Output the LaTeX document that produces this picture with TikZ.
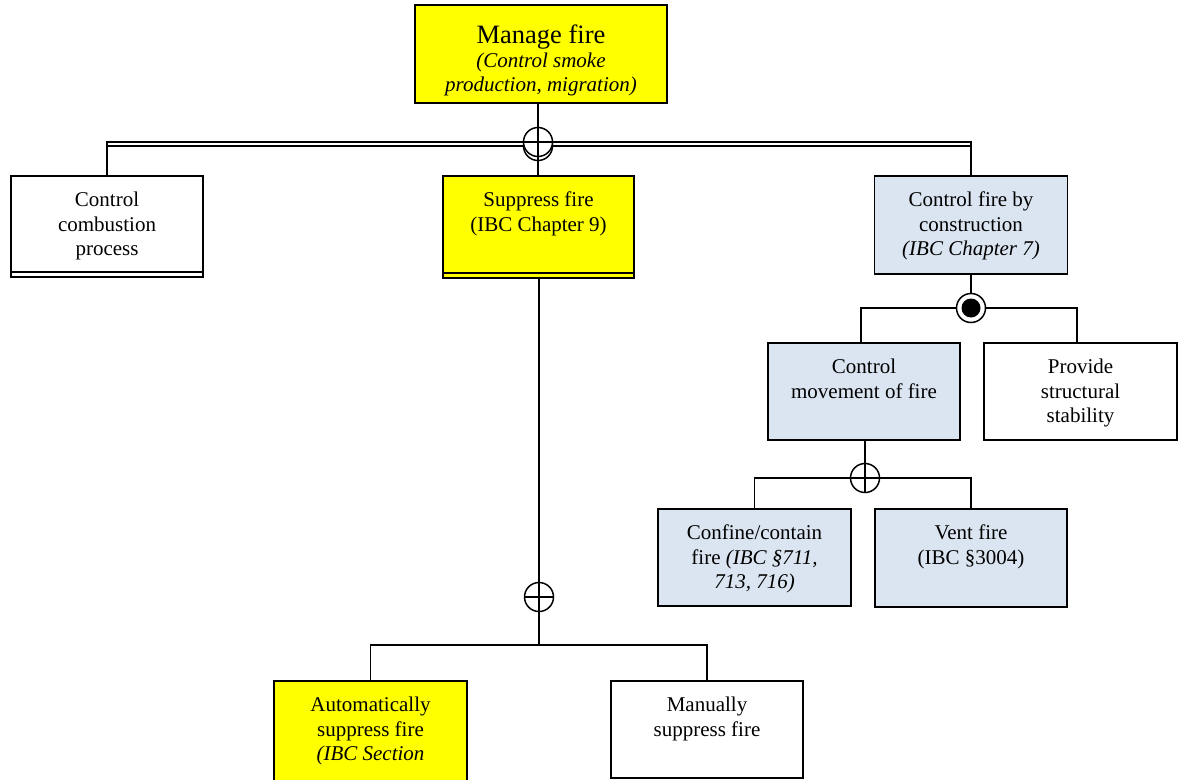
\documentclass[tikz,border=0pt]{standalone}
\usepackage{fontspec}
\setmainfont{Liberation Serif}
\definecolor{fyellow}{HTML}{FFFF00}
\definecolor{fblue}{HTML}{DBE5F1}
\newcommand\boxtxt[3]{\parbox[c][#2][t]{#1}{\centering\fontsize{21}{24.7}\selectfont\rule{0pt}{30.5pt}#3\par}}
\begin{document}
\begin{tikzpicture}[x=1pt,y=-1pt,
  fbox/.style={draw, line width=1.5pt, inner sep=0pt, outer sep=0pt},
  conn/.style={line width=1.5pt},
  orgate/.style={circle, draw, line width=1.5pt, minimum size=29pt, inner sep=0pt, outer sep=0pt, fill=white,
    path picture={\draw[black, line width=1.5pt] (path picture bounding box.north) -- (path picture bounding box.south)
      (path picture bounding box.west) -- (path picture bounding box.east);}},
  andgate/.style={circle, draw, line width=1.5pt, minimum size=29pt, inner sep=0pt, outer sep=0pt, fill=white,
    path picture={\fill[black] (path picture bounding box.center) circle (9.5pt);}}]
\useasboundingbox (0,0) rectangle (1183,779);
\clip (0,0) rectangle (1183,779);

% boxes
\node[fbox, fill=fyellow] (manage) at (541,54)
  {\parbox[c][98pt][t]{252pt}{\centering\fontsize{26.5}{24}\selectfont\rule{0pt}{38pt}Manage fire\\
   \fontsize{21}{24}\selectfont\itshape(Control smoke\\production, migration)\par}};
\node[fbox, fill=white] (comb) at (107,226.5) {\boxtxt{192pt}{101pt}{Control\\combustion\\process}};
\node[fbox, fill=fyellow] (supp) at (538.5,227) {\boxtxt{191pt}{102pt}{Suppress fire\\(IBC Chapter 9)}};
\node[fbox, fill=fblue] (cons) at (971,225) {\boxtxt{193pt}{98pt}{Control fire by\\construction\\\textit{(IBC Chapter 7)}}};
\node[fbox, fill=fblue] (move) at (864,391.5) {\boxtxt{192pt}{97pt}{Control\\movement of fire}};
\node[fbox, fill=white] (stab) at (1080.5,391.5) {\boxtxt{193pt}{97pt}{Provide\\structural\\stability}};
\node[fbox, fill=fblue] (conf) at (754.5,557.5) {\boxtxt{193pt}{97pt}{Confine/contain\\fire \textit{(IBC §711,}\\\textit{713, 716)}}};
\node[fbox, fill=fblue] (vent) at (971,558) {\boxtxt{192pt}{98pt}{Vent fire\\(IBC §3004)}};
\node[fbox, fill=fyellow] (auto) at (370.5,746) {\boxtxt{193pt}{130pt}{Automatically\\suppress fire\\\textit{(IBC Section}}};
\node[fbox, fill=white] (manual) at (707,729.5) {\boxtxt{192pt}{97pt}{Manually\\suppress fire}};

% double bottoms
\draw[line width=1.5pt] ([yshift=5pt]comb.south west) -- ([yshift=5pt]comb.south east);
\draw[line width=1.5pt] ([yshift=5pt]supp.south west) -- ([yshift=5pt]supp.south east);

% gates
\draw[line width=1.5pt, fill=white] (538,146) circle (14.5pt);
\node[orgate] (or1) at (538,142) {};
\node[andgate] (or2) at (971,308) {};
\node[orgate] (or3) at (865,478) {};
\node[orgate] (or4) at (539,597) {};
\coordinate (j4) at (539,645);

% connectors
\draw[conn] (manage.south -| or1) -- (or1.north);
\draw[conn] (or1.south) -- (supp.north -| or1);
\draw[conn] (comb.north) |- (or1.west);
\draw[conn] (cons.north) |- (or1.east);
\draw[conn] ([yshift=-4pt]or1.west) -- ([yshift=-4pt]or1.west -| comb.north);
\draw[conn] ([yshift=-4pt]or1.east) -- ([yshift=-4pt]or1.east -| cons.north);
\draw[conn] (cons.south) -- (or2.north);
\draw[conn] (or2.west) -| ([xshift=-3pt]move.north);
\draw[conn] (or2.east) -| ([xshift=-3.5pt]stab.north);
\draw[conn] (move.south -| or3) -- (or3.north);
\draw[conn] (or3.west) -| (conf.north);
\draw[conn] (or3.east) -| (vent.north);
\draw[conn] (supp.south -| or4) -- (or4.north);
\draw[conn] (or4.south) -- (j4);
\draw[conn] (auto.north) |- (j4) -| (manual.north);
\end{tikzpicture}
\end{document}
